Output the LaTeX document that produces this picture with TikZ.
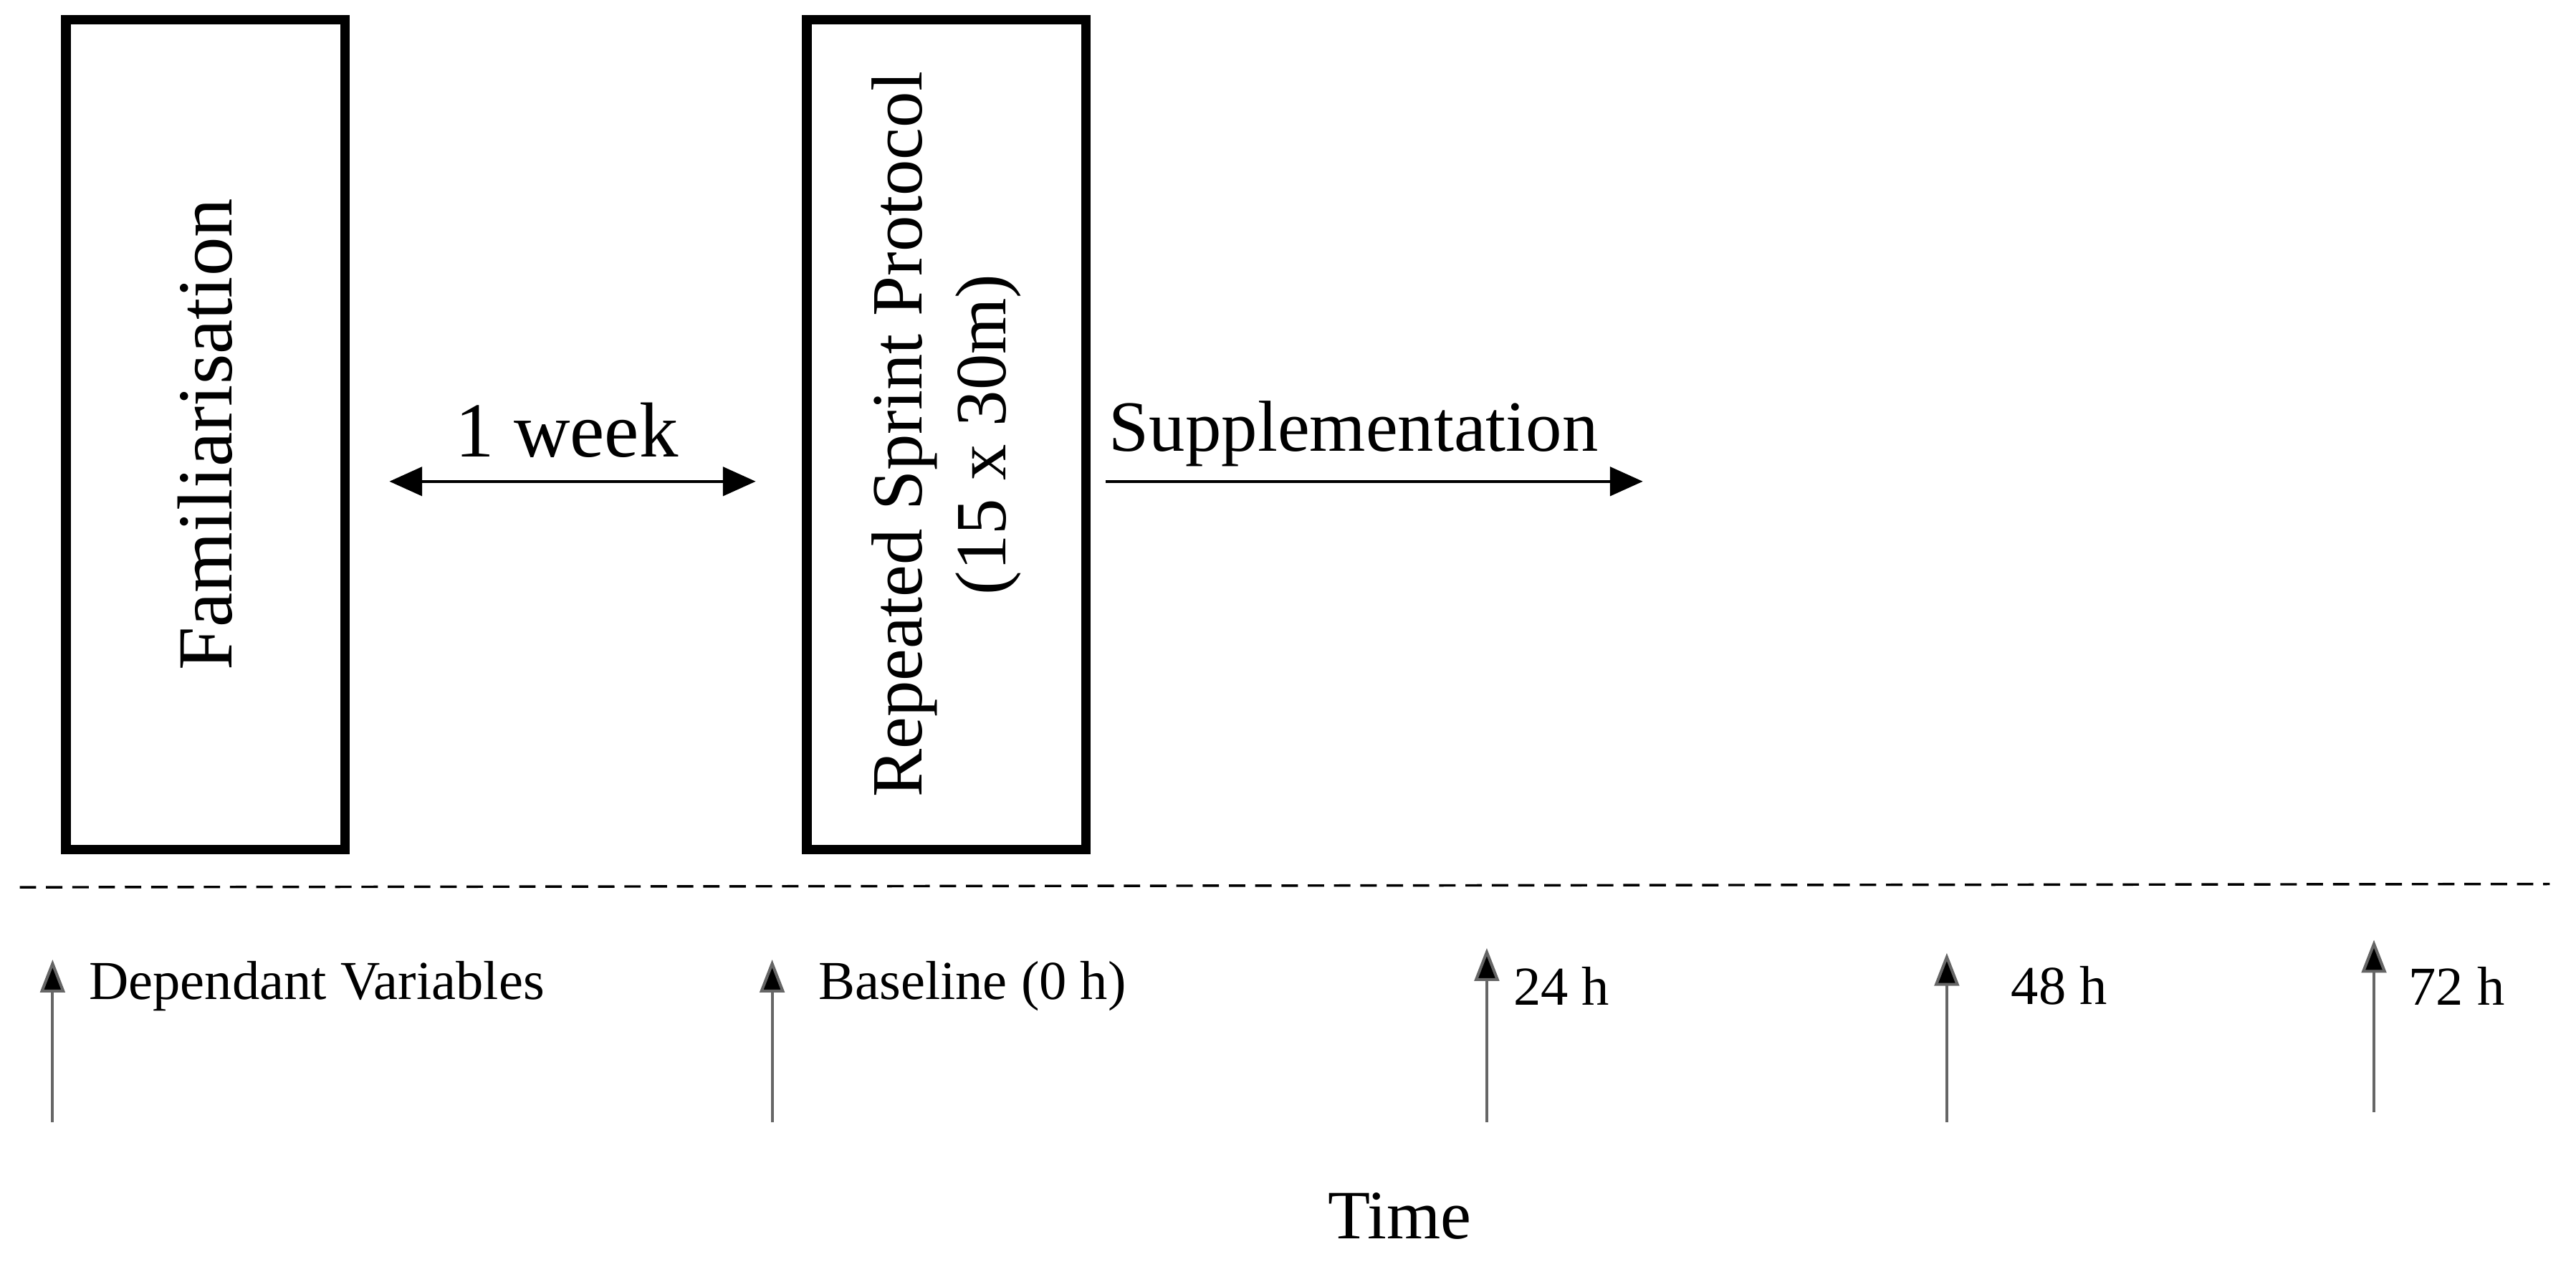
\documentclass[tikz,border=0pt]{standalone}
\usepackage{fontspec}
\setmainfont{Liberation Serif}
\usetikzlibrary{arrows.meta,positioning}
\tikzset{
  phasebox/.style={draw,line width=1.2mm,minimum width=34mm,minimum height=101mm},
  bigtxt/.style={font=\fontsize{25}{29}\selectfont},
  smalltxt/.style={font=\fontsize{19}{22}\selectfont,anchor=west},
  timearrow/.style={-{Triangle[length=4mm,width=3mm,fill=black]},line width=0.35mm,draw=black!60},
  flowarrow/.style={-{Triangle[length=4mm,width=3.5mm]},line width=0.4mm}
}
\begin{document}
\begin{tikzpicture}[x=0.2mm,y=-0.2mm]
\useasboundingbox (0,0) rectangle (1568,771);
% phases
\node[phasebox] (fam) at (125,264.5) {};
\node[font=\fontsize{27}{30}\selectfont,rotate=90] at (fam) {Familiarisation};
\node[phasebox] (rsp) at (576,264.5) {};
\node[bigtxt,rotate=90,align=center] at (rsp) {Repeated Sprint Protocol\\(15 x 30m)};
% intervals
\coordinate (wk1) at (237,293);
\coordinate (wk2) at (460,293);
\draw[flowarrow,{Triangle[length=4mm,width=3.5mm]}-{Triangle[length=4mm,width=3.5mm]}] (wk1) -- (wk2);
\node[font=\fontsize{27}{30}\selectfont] (week) at (345,262) {1 week};
\coordinate (sup1) at (673,293);
\coordinate (sup2) at (1000,293);
\draw[flowarrow] (sup1) -- (sup2);
\node[bigtxt] (supp) at (824,264) {Supplementation};
% time line
\coordinate (dl) at (12,540);
\coordinate (dr) at (1552,538);
\draw[dashed,line width=0.3mm,dash pattern=on 2mm off 1.2mm] (dl) -- (dr);
% measurement points
\foreach \x/\yb/\yt/\lx/\lab in {32/683/584/48/Dependant Variables, 470/683/584/492/Baseline (0 h), 905/683/577/915/24 h, 1185/683/580/1218/48 h, 1445/677/572/1460/72 h}{
  \coordinate (b\x) at (\x,\yb);
  \coordinate (t\x) at (\x,\yt);
  \draw[timearrow] (b\x) -- (t\x);
  \node[smalltxt] at (\lx,600) {\lab};
}
\node[font=\fontsize{24}{28}\selectfont] (time) at (852,740) {Time};
\end{tikzpicture}
\end{document}
